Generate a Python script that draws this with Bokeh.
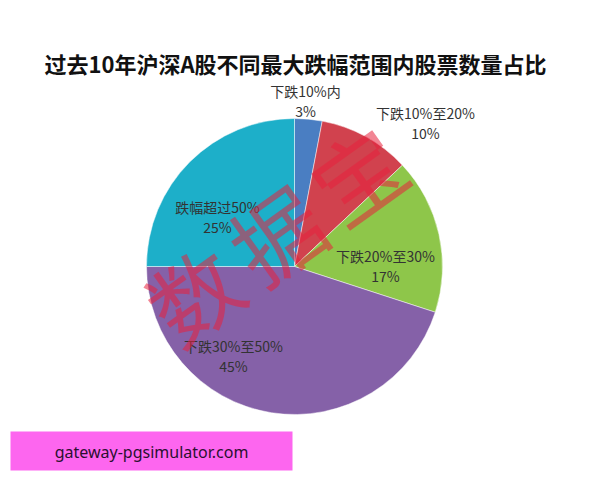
import numpy as np
from bokeh.plotting import figure
from bokeh.models import Range1d, ColumnDataSource
from bokeh.core.properties import value
from bokeh.embed import file_html
from bokeh.resources import INLINE

# ---- data ----
categories = ["下跌10%内", "下跌10%至20%", "下跌20%至30%", "下跌30%至50%", "跌幅超过50%"]
shares = [3, 10, 17, 45, 25]
pct_labels = ["3%", "10%", "17%", "45%", "25%"]
title_text = "过去10年沪深A股不同最大跌幅范围内股票数量占比"
watermark = ["数", "据", "宝"]
site_text = "gateway-pgsimulator.com"

# ---- styles / layout ----
colors = ["#4A7EC2", "#D1424E", "#8EC64A", "#8561A8", "#1DAFC9"]
W, H = 600, 480
def Y(img_y):  # image pixel row -> data y
    return H - img_y
def X(img_x):
    return img_x

cx, cy, R = X(294), Y(266), 148
label_x = [X(305), X(425), X(385), X(233), X(217)]
label_y = [Y(90), Y(112), Y(255), Y(345), Y(206)]

p = figure(width=W, height=H, output_backend="svg", toolbar_location=None,
           x_range=Range1d(0, W), y_range=Range1d(0, H), min_border=0)
p.axis.visible = False
p.grid.visible = False
p.outline_line_color = None
p.background_fill_color = "white"

frac = np.array(shares, dtype=float) / sum(shares)
cum = np.concatenate([[0], np.cumsum(frac)])
start = np.pi / 2 - cum[:-1] * 2 * np.pi
end = np.pi / 2 - cum[1:] * 2 * np.pi
src = ColumnDataSource(dict(x=[cx] * len(shares), y=[cy] * len(shares),
                            start=start, end=end, color=colors))
p.wedge(x="x", y="y", radius=R, start_angle="start", end_angle="end",
        direction="clock", fill_color="color", line_color="white",
        line_width=0.8, line_alpha=0.6, source=src)

# labels
lab_src = ColumnDataSource(dict(x=label_x, y=label_y, y2=[v - 20 for v in label_y],
                                t=categories, p=pct_labels))
p.text(x="x", y="y", text="t", source=lab_src, text_font=value("Noto Sans CJK SC"),
       text_font_size="14px", text_color="#333333", text_align="center",
       text_baseline="middle")
p.text(x="x", y="y2", text="p", source=lab_src,
       text_font=value("Noto Sans CJK SC"), text_font_size="14px",
       text_color="#333333", text_align="center", text_baseline="middle")

# watermark
p.text(x=[X(192), X(275), X(356)], y=[Y(292), Y(232), Y(172)], text=watermark,
       angle=0.62, text_font=value("Noto Sans CJK SC"), text_font_size="90px",
       text_color="#E8203C", text_alpha=0.55, text_align="center",
       text_baseline="middle")

# title
p.text(x=[X(295)], y=[Y(62)], text=[title_text], text_font=value("Noto Sans CJK SC"),
       text_font_size="22px", text_font_style="bold", text_color="#111111",
       text_align="center", text_baseline="middle")

# pink box
p.quad(left=[X(10)], right=[X(292)], bottom=[Y(470)], top=[Y(431)],
       fill_color="#FD66EF", line_color=None)
p.text(x=[X(151)], y=[Y(451)], text=[site_text], text_font=value("Noto Sans"),
       text_font_size="16px", text_color="#2a1030", text_align="center",
       text_baseline="middle")

open("out.html", "w").write(file_html(p, INLINE))
